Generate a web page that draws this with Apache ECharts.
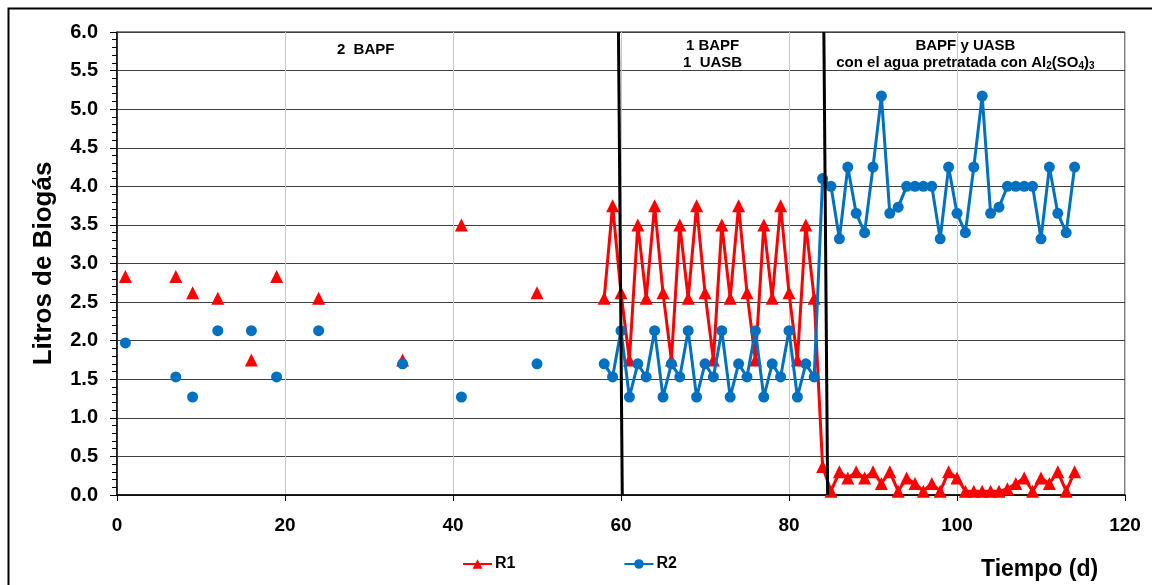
<!DOCTYPE html>
<html>
<head>
<meta charset="utf-8">
<script src="https://cdn.jsdelivr.net/npm/echarts@6/dist/echarts.min.js"></script>
<style>
html,body{margin:0;padding:0;background:#fff;}
#chart{width:1152px;height:585px;}
</style>
</head>
<body>
<div id="chart"></div>
<script>
// Early isolated measurements (days) and values
var earlyDays = [1, 7, 9, 12, 16, 19, 24, 34, 41, 50];
var r1Early = [2.83, 2.83, 2.62, 2.55, 1.75, 2.83, 2.55, 1.75, 3.5, 2.62];
var r2Early = [1.97, 1.53, 1.27, 2.13, 2.13, 1.53, 2.13, 1.70, 1.27, 1.70];

// Continuous daily measurements from day 58 to day 114
var runDays = [58,59,60,61,62,63,64,65,66,67,68,69,70,71,72,73,74,75,76,77,78,79,80,81,82,83,84,85,86,87,88,89,90,91,92,93,94,95,96,97,98,99,100,101,102,103,104,105,106,107,108,109,110,111,112,113,114];
var r1Run = [2.55,3.75,2.62,1.75,3.5,2.55,3.75,2.62,1.75,3.5,2.55,3.75,2.62,1.75,3.5,2.55,3.75,2.62,1.75,3.5,2.55,3.75,2.62,1.75,3.5,2.55,
             0.37,0.05,0.30,0.22,0.30,0.22,0.30,0.15,0.30,0.05,0.22,0.15,0.05,0.15,0.05,0.30,0.22,0.05,0.05,0.05,0.05,0.05,0.08,0.15,0.22,0.05,0.22,0.15,0.30,0.05,0.30];
var r2Run = [1.70,1.53,2.13,1.27,1.70,1.53,2.13,1.27,1.70,1.53,2.13,1.27,1.70,1.53,2.13,1.27,1.70,1.53,2.13,1.27,1.70,1.53,2.13,1.27,1.70,1.53,
             4.10,4.00,3.32,4.25,3.65,3.40,4.25,5.17,3.65,3.73,4.00,4.00,4.00,4.00,3.32,4.25,3.65,3.40,4.25,5.17,3.65,3.73,4.00,4.00,4.00,4.00,3.32,4.25,3.65,3.40,4.25];

// Phase separator lines (x at top, x at bottom)
var sep1 = [[59.7, 6], [60.15, 0]];
var sep2 = [[84.15, 6], [84.6, 0]];

// Axis ticks
var xTicks = {min: 0, max: 120, interval: 20};
var yTicks = {min: 0, max: 6, interval: 0.5};

// Phase annotations
var notes = [
  {pos: [29.6, 5.77], text: '2  BAPF'},
  {pos: [70.9, 5.71], text: '1 BAPF\n1  UASB'},
  {pos: [101.0, 5.71], text: 'BAPF y UASB\ncon el agua pretratada con Al{s|2}(SO{s|4}){s|3}'}
];

function buildSeries(days, vals, rDays, rVals) {
  var out = [];
  for (var i = 0; i < days.length; i++) {
    out.push([days[i], vals[i]]);
    out.push([days[i] + 0.5, null]); // break: isolated points are not joined
  }
  for (var j = 0; j < rDays.length; j++) out.push([rDays[j], rVals[j]]);
  return out;
}

var chart = echarts.init(document.getElementById('chart'));
var font = 'Liberation Sans, Arial, sans-serif';

chart.setOption({
  animation: false,
  backgroundColor: '#fff',
  graphic: [{
    type: 'rect', left: 6, top: 6, z: -10,
    shape: {width: 1170, height: 600},
    style: {fill: 'none', stroke: '#000', lineWidth: 2}
  }],
  grid: {left: 117, right: 27, top: 32, bottom: 90, show: true, borderColor: '#000', borderWidth: 1, backgroundColor: 'transparent'},
  legend: {
    data: ['R1', 'R2'], left: 457, top: 551, itemGap: 108, itemWidth: 29, itemHeight: 12,
    textStyle: {fontFamily: font, fontWeight: 'bold', fontSize: 16, color: '#000', padding: [0, 0, 0, -2]}
  },
  xAxis: {
    type: 'value', min: xTicks.min, max: xTicks.max, interval: xTicks.interval,
    name: 'Tiempo (d)', nameLocation: 'end', nameGap: 0,
    nameTextStyle: {fontFamily: font, fontWeight: 'bold', fontSize: 23, color: '#000', padding: [63, 0, 0, -144], align: 'left', verticalAlign: 'top'},
    axisLine: {lineStyle: {color: '#000', width: 1.5}},
    axisTick: {show: true, inside: false, length: 6, lineStyle: {color: '#000'}},
    axisLabel: {fontFamily: font, fontWeight: 'bold', fontSize: 19, color: '#000', margin: 21},
    splitLine: {show: true, lineStyle: {color: '#c8c8c8', width: 1}}
  },
  yAxis: {
    type: 'value', min: yTicks.min, max: yTicks.max, interval: yTicks.interval,
    name: 'Litros de Biogás', nameLocation: 'middle', nameGap: 60, nameRotate: 90,
    nameTextStyle: {fontFamily: font, fontWeight: 'bold', fontSize: 26, color: '#000'},
    axisLine: {show: true, lineStyle: {color: '#000', width: 1.5}},
    axisTick: {show: true, inside: false, length: 7, lineStyle: {color: '#000'}},
    minorTick: {show: true, splitNumber: 5, length: 5, lineStyle: {color: '#000'}},
    axisLabel: {fontFamily: font, fontWeight: 'bold', fontSize: 20, color: '#000', margin: 19,
      formatter: function (v) { return v.toFixed(1); }},
    splitLine: {show: true, lineStyle: {color: '#404040', width: 1}}
  },
  series: [
    {
      name: 'R1', type: 'line', data: buildSeries(earlyDays, r1Early, runDays, r1Run),
      connectNulls: false, symbol: 'triangle', symbolSize: 13, z: 3,
      lineStyle: {color: '#ff0000', width: 3}, itemStyle: {color: '#ff0000'}
    },
    {
      name: 'R2', type: 'line', data: buildSeries(earlyDays, r2Early, runDays, r2Run),
      connectNulls: false, symbol: 'circle', symbolSize: 11, z: 4,
      lineStyle: {color: '#0070c0', width: 3}, itemStyle: {color: '#0070c0'}
    },
    {
      name: 'sep1', type: 'line', data: sep1, symbol: 'none', z: 5,
      lineStyle: {color: '#000', width: 3}
    },
    {
      name: 'sep2', type: 'line', data: sep2, symbol: 'none', z: 5,
      lineStyle: {color: '#000', width: 3}
    },
    {
      name: 'notes', type: 'scatter', symbolSize: 1, z: 6,
      itemStyle: {color: 'rgba(255,255,255,0)'},
      data: notes.map(function (n) {
        return {value: n.pos, label: {formatter: n.text}};
      }),
      label: {
        show: true, position: 'inside', align: 'center', verticalAlign: 'middle',
        fontFamily: font, fontWeight: 'bold', fontSize: 15, color: '#000', opacity: 1, lineHeight: 17,
        rich: {s: {fontFamily: font, fontWeight: 'bold', fontSize: 10, color: '#000', verticalAlign: 'bottom', lineHeight: 11, padding: [6, 0, 0, 0]}}
      },
      silent: true
    }
  ]
});
</script>
</body>
</html>
